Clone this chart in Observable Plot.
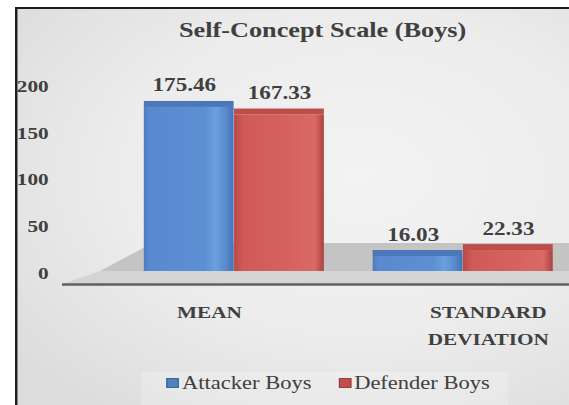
<!DOCTYPE html>
<html>
<head>
<meta charset="utf-8">
<script src="https://cdn.jsdelivr.net/npm/d3@7"></script>
<script src="https://cdn.jsdelivr.net/npm/@observablehq/plot@0.6"></script>
<style>
  html, body { margin: 0; padding: 0; background: #ffffff; }
  #wrap {
    position: relative; width: 455px; height: 405px;
    transform: scaleX(1.2505); transform-origin: 0 0; overflow: hidden;
    font-family: "Liberation Serif", "Times New Roman", serif; color: #404040;
  }
  #panel {
    position: absolute; left: 12px; top: 7px; width: 443px; height: 398px; box-sizing: border-box;
    border-left: 2.5px solid #1c1c1c; border-top: 2.5px solid #1c1c1c;
    background: radial-gradient(ellipse 80% 75% at 62% 42%, #f3f3f3 0%, #ececec 55%, #dcdcdc 100%);
  }
  #title {
    position: absolute; left: 58px; width: 400px; top: 20px; text-align: center;
    font-family: "Liberation Serif", "Times New Roman", serif;
    font-size: 21px; line-height: 21px; font-weight: bold; color: #404040; white-space: nowrap;
  }
  #chart { position: absolute; left: 0; top: 0; }
  #legendbox { position: absolute; left: 113px; top: 372px; width: 293px; height: 40px; background: rgba(255,255,255,0.22); }
  .sw { position: absolute; top: 378px; width: 10px; height: 10px; box-sizing: border-box; }
  .lt {
    position: absolute; top: 374px; font-size: 18px; line-height: 18px; white-space: nowrap; color: #404040;
    font-family: "Liberation Serif", "Times New Roman", serif; font-weight: normal;
  }
</style>
</head>
<body>
<svg width="0" height="0" style="position:absolute">
  <defs>
    <linearGradient id="gBlue" x1="0" x2="1" y1="0" y2="0">
      <stop offset="0" stop-color="#4c7cc0"/>
      <stop offset="0.06" stop-color="#5989cf"/>
      <stop offset="0.68" stop-color="#5d8fd3"/>
      <stop offset="0.8" stop-color="#69a1de"/>
      <stop offset="0.9" stop-color="#5b8dd1"/>
      <stop offset="1" stop-color="#4373b6"/>
    </linearGradient>
    <linearGradient id="gRed" x1="0" x2="1" y1="0" y2="0">
      <stop offset="0" stop-color="#b94946"/>
      <stop offset="0.1" stop-color="#cf5a57"/>
      <stop offset="0.6" stop-color="#d6625f"/>
      <stop offset="0.9" stop-color="#d96965"/>
      <stop offset="1" stop-color="#a94341"/>
    </linearGradient>
  </defs>
</svg>
<div id="wrap">
  <div id="panel"></div>
  <div id="legendbox"></div>
  <div id="title"></div>
  <div id="chart"></div>
  <div id="legend"></div>
</div>
<script>
// ---- data ----
const chartTitle = "Self-Concept Scale (Boys)";
const categories = ["MEAN", "STANDARD DEVIATION"];
const categoryLabels = ["MEAN", "STANDARD\nDEVIATION"];
const seriesNames = ["Attacker Boys", "Defender Boys"];
const attackerValues = [175.46, 16.03];
const defenderValues = [167.33, 22.33];
const yTicks = [0, 50, 100, 150, 200];

const seriesFill = ["url(#gBlue)", "url(#gRed)"];
const seriesTop = ["#4a78b9", "#bd4d4a"];
const seriesSwatch = ["#4f81bd", "#c0504d"];

const rows = [];
categories.forEach((c, i) => {
  rows.push({category: c, series: seriesNames[0], value: attackerValues[i]});
  rows.push({category: c, series: seriesNames[1], value: defenderValues[i]});
});

// ---- layout ----
const W = 455, H = 405, ML = 114.4, MR = 12.6, MT = 84, MB = 134;
const PI = 0.214;
const bw = (W - ML - MR) / (categories.length - PI) * (1 - PI);
const half = bw / 2;

document.getElementById("title").textContent = chartTitle;

// decorative 3D floor, built from the y scale
function floorMark(index, scales, values, dims) {
  const y0 = scales.y(0);
  const g = d3.create("svg:g");
  g.append("polygon")
    .attr("points", [[80, y0], [W, y0], [W, y0 - 28], [122, y0 - 28]].map(p => p.join(",")).join(" "))
    .attr("fill", "#c4c4c4");
  g.append("polygon")
    .attr("points", [[49.6, y0 + 13], [W, y0 + 13], [W, y0], [80, y0]].map(p => p.join(",")).join(" "))
    .attr("fill", "#d4d4d4");
  g.append("line")
    .attr("x1", 49.6).attr("x2", W).attr("y1", y0 + 13.5).attr("y2", y0 + 13.5)
    .attr("stroke", "#5f5f5f").attr("stroke-width", 2.5);
  return g.node();
}

const byS = s => rows.filter(d => d.series === s);
const fmt = v => v.toFixed(2);

const plot = Plot.plot({
  width: W, height: H,
  marginLeft: ML, marginRight: MR, marginTop: MT, marginBottom: MB,
  style: {background: "transparent", fontFamily: "'Liberation Serif', 'Times New Roman', serif", overflow: "visible"},
  x: {type: "band", domain: categories, paddingInner: PI, paddingOuter: 0, axis: null},
  y: {domain: [0, 200], axis: null},
  marks: [
    floorMark,
    Plot.barY(byS(seriesNames[0]), {x: "category", y: "value", insetRight: half, fill: seriesFill[0]}),
    Plot.barY(byS(seriesNames[1]), {x: "category", y: "value", insetLeft: half, fill: seriesFill[1]}),
    Plot.barY(byS(seriesNames[0]), {x: "category", y1: "value", y2: "value", insetRight: half, insetTop: -6, fill: seriesTop[0]}),
    Plot.barY(byS(seriesNames[1]), {x: "category", y1: "value", y2: "value", insetLeft: half, insetTop: -6, fill: seriesTop[1]}),
    Plot.text(byS(seriesNames[0]), {x: "category", y: "value", text: d => fmt(d.value), dx: -half / 2 - 4, dy: -16, lineAnchor: "bottom", fontSize: 18.5, fontWeight: "bold", fill: "#404040"}),
    Plot.text(byS(seriesNames[1]), {x: "category", y: "value", text: d => fmt(d.value), dx: half / 2, dy: -16, lineAnchor: "bottom", fontSize: 18.5, fontWeight: "bold", fill: "#404040"}),
    Plot.axisY(yTicks, {anchor: "left", tickSize: 0, tickPadding: 76, fontSize: 17, fontWeight: "bold", fill: "#404040", label: null, dy: 2}),
    Plot.text([categories[0]], {x: d => d, text: d => categoryLabels[categories.indexOf(d)], frameAnchor: "bottom", lineAnchor: "top", dy: 27, dx: -20, fontSize: 17, fontWeight: "bold", fill: "#404040", lineHeight: 1.6}),
    Plot.text([categories[1]], {x: d => d, text: d => categoryLabels[categories.indexOf(d)], frameAnchor: "bottom", lineAnchor: "top", dy: 27, dx: 20, fontSize: 17, fontWeight: "bold", fill: "#404040", lineHeight: 1.6})
  ]
});
document.getElementById("chart").appendChild(plot);

// legend
const legend = document.getElementById("legend");
const swLeft = [132.8, 271.2], txtLeft = [145.6, 283.2];
seriesNames.forEach((s, i) => {
  const sw = document.createElement("div");
  sw.className = "sw";
  sw.style.left = swLeft[i] + "px";
  sw.style.background = seriesSwatch[i];
  sw.style.border = "1px solid " + (i === 0 ? "#3a659a" : "#9a3e3c");
  legend.appendChild(sw);
  const t = document.createElement("div");
  t.className = "lt";
  t.style.left = txtLeft[i] + "px";
  t.textContent = s;
  legend.appendChild(t);
});
</script>
</body>
</html>
